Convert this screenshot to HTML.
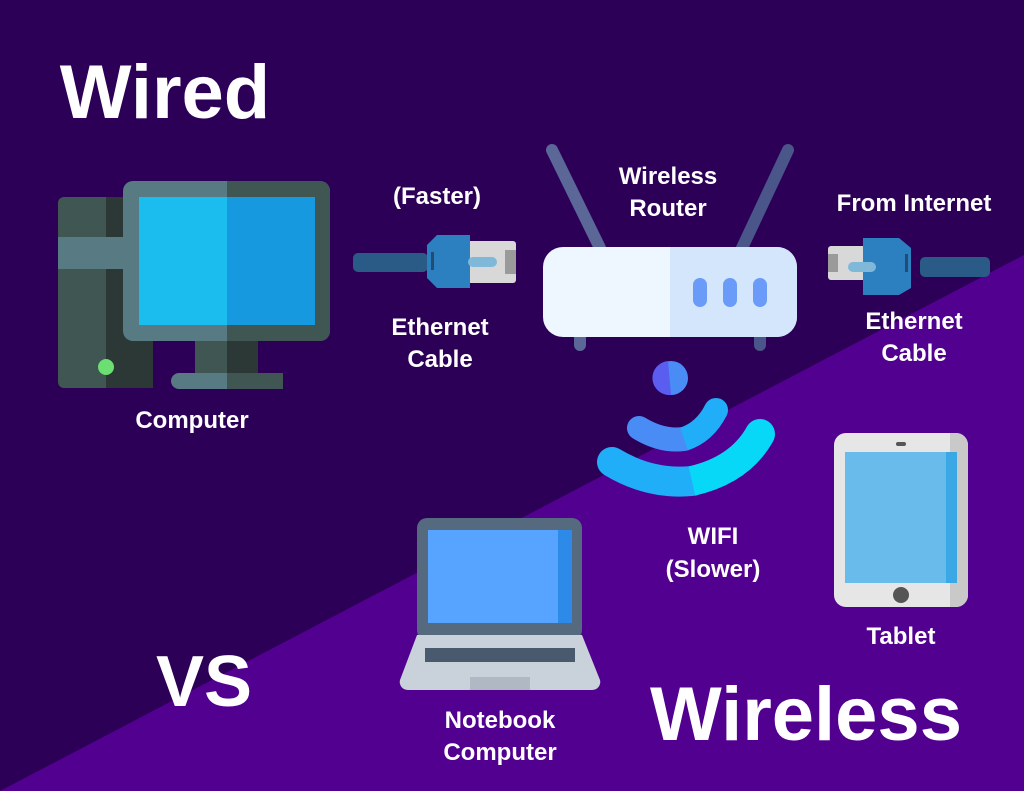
<!DOCTYPE html>
<html><head><style>
body{margin:0;width:1024px;height:791px;overflow:hidden;font-family:"Liberation Sans",sans-serif;}
</style></head><body>
<svg width="1024" height="791" viewBox="0 0 1024 791" xmlns="http://www.w3.org/2000/svg">
<rect width="1024" height="791" fill="#2d0057"/>
<polygon points="0,791 1024,255 1024,791" fill="#520090"/>
<g font-family="Liberation Sans, sans-serif" font-weight="bold" fill="#fff" text-anchor="middle">
<text x="165" y="118" font-size="76">Wired</text>
<text x="806" y="740" font-size="76">Wireless</text>
<text x="204" y="706" font-size="72">VS</text>
<g font-size="24">
<text x="437" y="204">(Faster)</text>
<text x="440" y="335">Ethernet</text>
<text x="440" y="367">Cable</text>
<text x="192" y="428">Computer</text>
<text x="668" y="184">Wireless</text>
<text x="668" y="216">Router</text>
<text x="914" y="211">From Internet</text>
<text x="914" y="329">Ethernet</text>
<text x="914" y="361">Cable</text>
<text x="713" y="544">WIFI</text>
<text x="713" y="577">(Slower)</text>
<text x="901" y="644">Tablet</text>
<text x="500" y="728">Notebook</text>
<text x="500" y="760">Computer</text>
</g></g>
<!-- computer -->
<rect x="58" y="197" width="95" height="191" rx="6" fill="#3f5652"/>
<rect x="106" y="197" width="47" height="191" fill="#2b3836"/>
<rect x="58" y="237" width="95" height="32" fill="#587a82"/>
<circle cx="106" cy="367" r="8" fill="#6bdf71"/>
<rect x="195" y="335" width="63" height="40" fill="#3f5652"/>
<rect x="227" y="335" width="31" height="40" fill="#2b3836"/>
<rect x="171" y="373" width="112" height="16" rx="8" fill="#587a82"/>
<rect x="227" y="373" width="56" height="16" fill="#3f5652"/>
<rect x="123" y="181" width="207" height="160" rx="10" fill="#587a82"/>
<path d="M227 181 H320 a10 10 0 0 1 10 10 V331 a10 10 0 0 1 -10 10 H227Z" fill="#3f5652"/>
<rect x="139" y="197" width="88" height="128" fill="#1bbcee"/>
<rect x="227" y="197" width="88" height="128" fill="#1799e0"/>
<!-- left cable -->
<rect x="353" y="253" width="75" height="19" rx="5" fill="#2a5a86"/>
<rect x="467" y="241" width="49" height="42" rx="3" fill="#d8d8d8"/>
<rect x="505" y="250" width="11" height="24" fill="#9a9a9a"/>
<path d="M427 245 l10 -10 h33 v53 h-33 l-10 -10Z" fill="#2c80c0"/>
<rect x="468" y="257" width="29" height="10" rx="5" fill="#7fb8d8"/>
<rect x="431" y="252" width="3" height="18" fill="#234c75"/>
<!-- router -->
<line x1="552" y1="150" x2="600" y2="248" stroke="#5a6797" stroke-width="12" stroke-linecap="round"/>
<line x1="788" y1="150" x2="742" y2="248" stroke="#4a5689" stroke-width="12" stroke-linecap="round"/>
<rect x="574" y="330" width="12" height="21" rx="6" fill="#5a6797"/>
<rect x="754" y="330" width="12" height="21" rx="6" fill="#4a5689"/>
<rect x="543" y="247" width="254" height="90" rx="20" fill="#eef6ff"/>
<path d="M670 247 H777 a20 20 0 0 1 20 20 V317 a20 20 0 0 1 -20 20 H670Z" fill="#d4e6fc"/>
<rect x="693" y="278" width="14" height="29" rx="7" fill="#6a9bf8"/>
<rect x="723" y="278" width="14" height="29" rx="7" fill="#6a9bf8"/>
<rect x="753" y="278" width="14" height="29" rx="7" fill="#6a9bf8"/>
<!-- right cable -->
<rect x="920" y="257" width="70" height="20" rx="5" fill="#2a5a86"/>
<rect x="828" y="246" width="38" height="34" rx="3" fill="#d8d8d8"/>
<rect x="828" y="254" width="10" height="18" fill="#9a9a9a"/>
<path d="M863 238 h36 l12 10 v40 l-12 7 h-36Z" fill="#2c80c0"/>
<rect x="848" y="262" width="28" height="10" rx="5" fill="#7fb8d8"/>
<rect x="905" y="254" width="3" height="18" fill="#234c75"/>
<!-- wifi -->
<circle cx="671" cy="378" r="17" fill="#4a8cf5"/>
<path d="M668 361 a17 17 0 0 0 3 34Z" fill="#5b5cf0"/>
<path d="M639 428 Q662 442 684 439" stroke="#4a8cf5" stroke-width="24" stroke-linecap="round" fill="none"/>
<path d="M684 439 Q705 432 716 410" stroke="#21aef8" stroke-width="24" stroke-linecap="butt" fill="none"/>
<circle cx="716" cy="410" r="12" fill="#21aef8"/>
<path d="M612 462 Q650 485 692 481" stroke="#21aef8" stroke-width="30" stroke-linecap="round" fill="none"/>
<path d="M692 481 Q740 470 760 434" stroke="#08d8f8" stroke-width="30" stroke-linecap="butt" fill="none"/>
<circle cx="760" cy="434" r="15" fill="#08d8f8"/>
<!-- tablet -->
<rect x="834" y="433" width="134" height="174" rx="12" fill="#e6e6e6"/>
<path d="M950 433 h6 a12 12 0 0 1 12 12 v150 a12 12 0 0 1 -12 12 h-6Z" fill="#c9c9c9"/>
<rect x="845" y="452" width="112" height="131" fill="#68bbea"/>
<rect x="946" y="452" width="11" height="131" fill="#3aa8e4"/>
<circle cx="901" cy="595" r="8" fill="#555"/>
<rect x="896" y="442" width="10" height="4" rx="2" fill="#555"/>
<!-- laptop -->
<rect x="417" y="518" width="165" height="122" rx="10" fill="#566a7f"/>
<rect x="428" y="530" width="144" height="93" fill="#56a4ff"/>
<rect x="558" y="530" width="14" height="93" fill="#2e8ae8"/>
<path d="M417 635 H582 L600 680 a8 8 0 0 1 -8 10 H408 a8 8 0 0 1 -8 -10Z" fill="#c9d1db"/>
<rect x="425" y="648" width="150" height="14" fill="#4a5a6e"/>
<rect x="470" y="677" width="60" height="13" fill="#b0b8c3"/>
</svg>
</body></html>
